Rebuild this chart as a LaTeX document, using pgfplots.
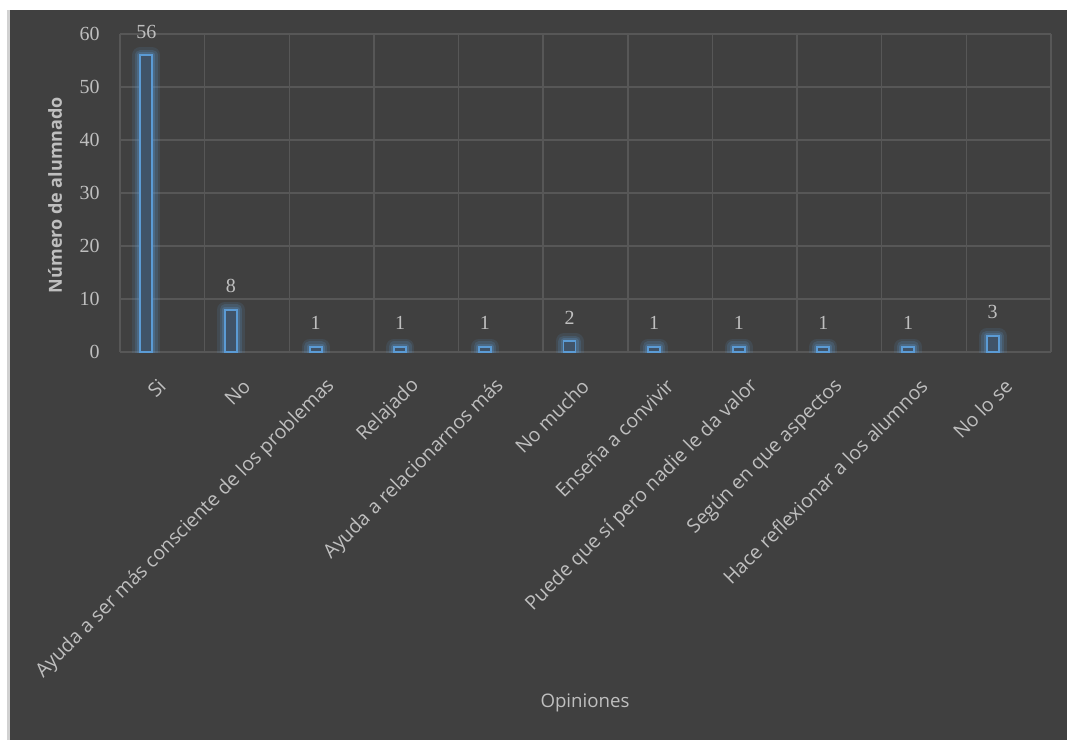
\documentclass[border=0pt]{standalone}
\usepackage{fontspec}
\setmainfont{Open Sans}
\newfontfamily\serif{Liberation Serif}
\usepackage{pgfplots}
\pgfplotsset{compat=1.18}
\definecolor{bg}{HTML}{404040}
\definecolor{gridc}{HTML}{575757}
\definecolor{txt}{HTML}{BFBFBF}
\definecolor{barline}{HTML}{5B9BD5}
\definecolor{barfill}{HTML}{405368}
\begin{document}
\begin{tikzpicture}
\fill[white] (0pt,0pt) rectangle (800.25pt,555pt);
\fill[bg] (7.5pt,0pt) rectangle (800.25pt,547.5pt);
\fill[black!18] (5.5pt,0pt) rectangle (7.5pt,547.5pt);
\begin{axis}[
  at={(90pt,291pt)}, anchor=south west, scale only axis,
  width=698.25pt, height=238.5pt,
  xmin=-0.5, xmax=10.5, ymin=0, ymax=60,
  ytick={0,10,20,30,40,50,60},
  xtick={0,1,2,3,4,5,6,7,8,9,10},
  xticklabels={Si,No,Ayuda a ser más consciente de los problemas,Relajado,Ayuda a relacionarnos más,No mucho,Enseña a convivir,Puede que sí pero nadie le da valor,Según en que aspectos,Hace reflexionar a los alumnos,No lo se},
  minor xtick={-0.5,0.5,1.5,2.5,3.5,4.5,5.5,6.5,7.5,8.5,9.5,10.5},
  xminorgrids, ymajorgrids,
  major grid style={gridc, line width=1.1pt},
  minor grid style={gridc, line width=1.1pt},
  axis line style={draw=none},
  tick style={draw=none},
  /pgf/number format/assume math mode=true,
  yticklabel style={font=\serif\fontsize{15}{17}\selectfont, text=txt, anchor=east, inner sep=0pt, xshift=-15pt},
  xticklabel style={yshift=-23pt, xshift=0pt, rotate=45, anchor=east, inner sep=0pt, font=\fontsize{14.6}{16}\selectfont, text=txt},
]
\addplot[ybar, bar width=9pt, bar shift=-12pt, draw=barline, draw opacity=0.12, line width=12pt, line join=round, fill=none, forget plot]
  coordinates {(0,56) (1,8) (2,1) (3,1) (4,1) (5,2) (6,1) (7,1) (8,1) (9,1) (10,3)};
\addplot[ybar, bar width=9pt, bar shift=-12pt, draw=barline, draw opacity=0.18, line width=8pt, line join=round, fill=none, forget plot]
  coordinates {(0,56) (1,8) (2,1) (3,1) (4,1) (5,2) (6,1) (7,1) (8,1) (9,1) (10,3)};
\addplot[ybar, bar width=9pt, bar shift=-12pt, draw=barline, draw opacity=0.25, line width=4.5pt, line join=round, fill=none, forget plot]
  coordinates {(0,56) (1,8) (2,1) (3,1) (4,1) (5,2) (6,1) (7,1) (8,1) (9,1) (10,3)};
\addplot[ybar, bar width=9pt, bar shift=-12pt, draw=barline, line width=1.4pt, fill=barfill,
  nodes near coords,
  every node near coord/.append style={font=\serif\fontsize{15}{17}\selectfont, text=txt, anchor=south, inner sep=0pt, yshift=12pt, xshift=-12pt}]
  coordinates {(0,56) (1,8) (2,1) (3,1) (4,1) (5,2) (6,1) (7,1) (8,1) (9,1) (10,3)};
\end{axis}
\node[text=txt, font=\fontsize{14}{16}\selectfont, inner sep=0pt] at (438.75pt,27.75pt) {Opiniones};
\node[text=txt, font=\bfseries\fontsize{13.5}{15}\selectfont, inner sep=0pt, rotate=90] at (41.25pt,408.75pt) {Número de alumnado};
\pgfresetboundingbox
\useasboundingbox (0pt,0pt) rectangle (800.25pt,555pt);
\end{tikzpicture}
\end{document}
